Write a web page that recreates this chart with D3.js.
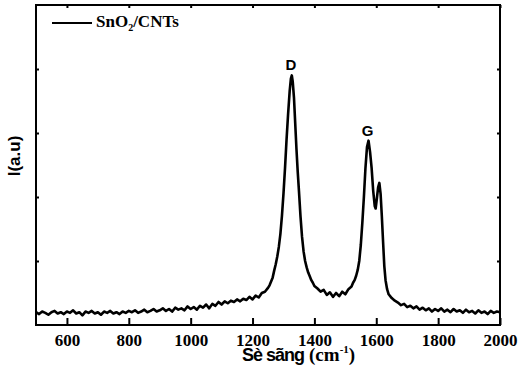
<!DOCTYPE html>
<html>
<head>
<meta charset="utf-8">
<script src="https://cdn.jsdelivr.net/npm/d3@7"></script>
<style>
  body { margin: 0; background: #fff; }
  .canvas svg { display: block; }
</style>
</head>
<body>
<div class="canvas"></div>
<script>
// raman spectrum: [wavenumber, intensity]
const spectrum = [
  [500,0.20],[510,0.17],[520,0.21],[530,0.19],[540,0.16],[550,0.20],[560,0.22],[570,0.18],[580,0.20],[590,0.17],
  [600,0.21],[610,0.19],[620,0.23],[630,0.18],[640,0.20],[650,0.15],[660,0.21],[670,0.19],[680,0.22],[690,0.18],
  [700,0.20],[710,0.16],[720,0.21],[730,0.19],[740,0.22],[750,0.18],[760,0.20],[770,0.17],[780,0.21],[790,0.19],
  [800,0.22],[810,0.20],[820,0.23],[830,0.19],[840,0.21],[850,0.24],[860,0.20],[870,0.22],[880,0.25],[890,0.21],
  [900,0.23],[910,0.26],[920,0.22],[930,0.25],[940,0.21],[950,0.27],[960,0.24],[970,0.26],[980,0.23],[990,0.29],
  [1000,0.25],[1010,0.28],[1020,0.24],[1030,0.30],[1040,0.27],[1050,0.32],[1060,0.26],[1070,0.33],[1080,0.30],[1090,0.36],
  [1100,0.32],[1110,0.37],[1120,0.34],[1130,0.38],[1140,0.36],[1150,0.40],[1160,0.37],[1170,0.41],[1180,0.39],[1190,0.44],
  [1200,0.40],[1210,0.46],[1220,0.43],[1230,0.50],[1240,0.52],[1250,0.58],[1255,0.62],[1260,0.68],[1265,0.74],[1270,0.85],
  [1275,0.95],[1280,1.07],[1285,1.22],[1290,1.42],[1295,1.70],[1300,2.05],[1305,2.45],[1310,2.90],[1315,3.30],[1320,3.65],
  [1324,3.85],[1327,3.90],[1330,3.80],[1334,3.55],[1338,3.15],[1342,2.75],[1346,2.40],[1350,2.10],[1355,1.70],[1360,1.38],
  [1365,1.15],[1370,1.00],[1375,0.90],[1380,0.82],[1385,0.76],[1390,0.70],[1395,0.66],[1400,0.61],[1410,0.57],[1420,0.52],
  [1430,0.55],[1440,0.47],[1450,0.51],[1460,0.44],[1470,0.50],[1480,0.45],[1490,0.52],[1500,0.48],[1510,0.56],[1520,0.60],
  [1525,0.66],[1530,0.70],[1535,0.77],[1540,0.86],[1545,1.00],[1550,1.25],[1555,1.60],[1560,2.00],[1565,2.45],[1570,2.78],
  [1575,2.88],[1580,2.70],[1585,2.45],[1590,2.10],[1595,1.86],[1598,1.82],[1602,1.98],[1606,2.15],[1610,2.22],[1614,2.05],
  [1618,1.70],[1622,1.30],[1626,0.92],[1630,0.70],[1635,0.56],[1640,0.48],[1650,0.42],[1660,0.38],[1670,0.35],[1680,0.31],
  [1690,0.33],[1700,0.28],[1710,0.30],[1720,0.26],[1730,0.29],[1740,0.24],[1750,0.27],[1760,0.23],[1770,0.26],[1780,0.21],
  [1790,0.25],[1800,0.22],[1810,0.26],[1820,0.21],[1830,0.24],[1840,0.20],[1850,0.25],[1860,0.21],[1870,0.23],[1880,0.19],
  [1890,0.24],[1900,0.20],[1910,0.22],[1920,0.18],[1930,0.23],[1940,0.19],[1950,0.21],[1960,0.17],[1970,0.22],[1980,0.19],
  [1990,0.21],[2000,0.20]
];
const xTicks = [600, 800, 1000, 1200, 1400, 1600, 1800, 2000];
const yTicks = [1, 2, 3, 4];
const peakLabels = [
  {name: 'D', x: 1327, y: 3.90},
  {name: 'G', x: 1575, y: 2.88}
];

// margins
const margin = {top: 5, right: 19, bottom: 46, left: 36};
const width = 519, height = 371;
const graphWidth = width - margin.left - margin.right;
const graphHeight = height - margin.top - margin.bottom;

const svg = d3.select('.canvas').append('svg')
    .attr('width', width)
    .attr('height', height);

const graph = svg.append('g')
    .attr('transform', `translate(${margin.left}, ${margin.top})`);

// scales
const x = d3.scaleLinear().domain([500, 2000]).range([0, graphWidth]);
const y = d3.scaleLinear().domain([0, 5]).range([graphHeight, 0]);

// spectrum line
const line = d3.line()
    .x(d => x(d[0]))
    .y(d => y(d[1]));

graph.append('path')
    .datum(spectrum)
    .attr('fill', 'none')
    .attr('stroke', '#000')
    .attr('stroke-width', 2.6)
    .attr('stroke-linejoin', 'round')
    .attr('d', line);

// axes, ticks pointing inwards
const xAxis = d3.axisBottom(x).tickValues(xTicks).tickFormat(d3.format('d'))
    .tickSizeInner(-7).tickSizeOuter(0).tickPadding(9);
const xTop = d3.axisTop(x).tickValues(xTicks).tickSizeInner(-3).tickSizeOuter(0).tickFormat('');
const yLeft = d3.axisLeft(y).tickValues(yTicks).tickSizeInner(-3).tickSizeOuter(0).tickFormat('');
const yRight = d3.axisRight(y).tickValues(yTicks).tickSizeInner(-3).tickSizeOuter(0).tickFormat('');

const xAxisGroup = graph.append('g')
    .attr('transform', `translate(0, ${graphHeight})`)
    .call(xAxis);
graph.append('g').call(xTop);
graph.append('g').call(yLeft);
graph.append('g').attr('transform', `translate(${graphWidth}, 0)`).call(yRight);

graph.selectAll('.domain').remove();
graph.selectAll('.tick line').attr('stroke', '#000').attr('stroke-width', 2);

xAxisGroup.selectAll('text')
    .attr('fill', '#000')
    .style('font-family', '"Liberation Serif", "Times New Roman", serif')
    .style('font-weight', 'bold')
    .style('font-size', '17px');

// frame
graph.append('rect')
    .attr('width', graphWidth)
    .attr('height', graphHeight)
    .attr('fill', 'none')
    .attr('stroke', '#000')
    .attr('stroke-width', 2);

// peak labels
graph.selectAll('.peak')
    .data(peakLabels)
    .enter().append('text')
    .attr('class', 'peak')
    .attr('x', d => x(d.x) - 1)
    .attr('y', d => y(d.y) - 5)
    .attr('text-anchor', 'middle')
    .style('font-family', '"Liberation Sans", Arial, sans-serif')
    .style('font-weight', 'bold')
    .style('font-size', '15px')
    .text(d => d.name);

// legend
const legend = svg.append('g');
legend.append('line')
    .attr('x1', 52).attr('x2', 92)
    .attr('y1', 23).attr('y2', 23)
    .attr('stroke', '#000')
    .attr('stroke-width', 2);
const legendText = legend.append('text')
    .attr('x', 96).attr('y', 27)
    .style('font-family', '"Liberation Serif", "Times New Roman", serif')
    .style('font-weight', 'bold')
    .style('font-size', '17px');
legendText.append('tspan').text('SnO');
legendText.append('tspan').attr('dy', 4).style('font-size', '10px').text('2');
legendText.append('tspan').attr('dy', -4).text('/CNTs');

// x axis title
const xTitle = svg.append('text')
    .attr('x', 242).attr('y', 361)
    .style('font-weight', 'bold');
xTitle.append('tspan')
    .style('font-family', '"Liberation Sans", Arial, sans-serif')
    .style('font-size', '18px')
    .style('letter-spacing', '-1px')
    .text('Sè sãng');
xTitle.append('tspan')
    .attr('dx', 5)
    .style('font-family', '"Liberation Serif", "Times New Roman", serif')
    .style('font-size', '19px')
    .text('(cm');
xTitle.append('tspan')
    .attr('dy', -8)
    .style('font-family', '"Liberation Serif", "Times New Roman", serif')
    .style('font-size', '11px')
    .text('-1');
xTitle.append('tspan')
    .attr('dy', 8)
    .style('font-family', '"Liberation Serif", "Times New Roman", serif')
    .style('font-size', '19px')
    .text(')');

// y axis title
svg.append('text')
    .attr('transform', 'translate(20, 156) rotate(-90)')
    .attr('text-anchor', 'middle')
    .style('font-family', '"Liberation Sans", Arial, sans-serif')
    .style('font-weight', 'bold')
    .style('font-size', '17px')
    .text('I(a.u)');
</script>
</body>
</html>
